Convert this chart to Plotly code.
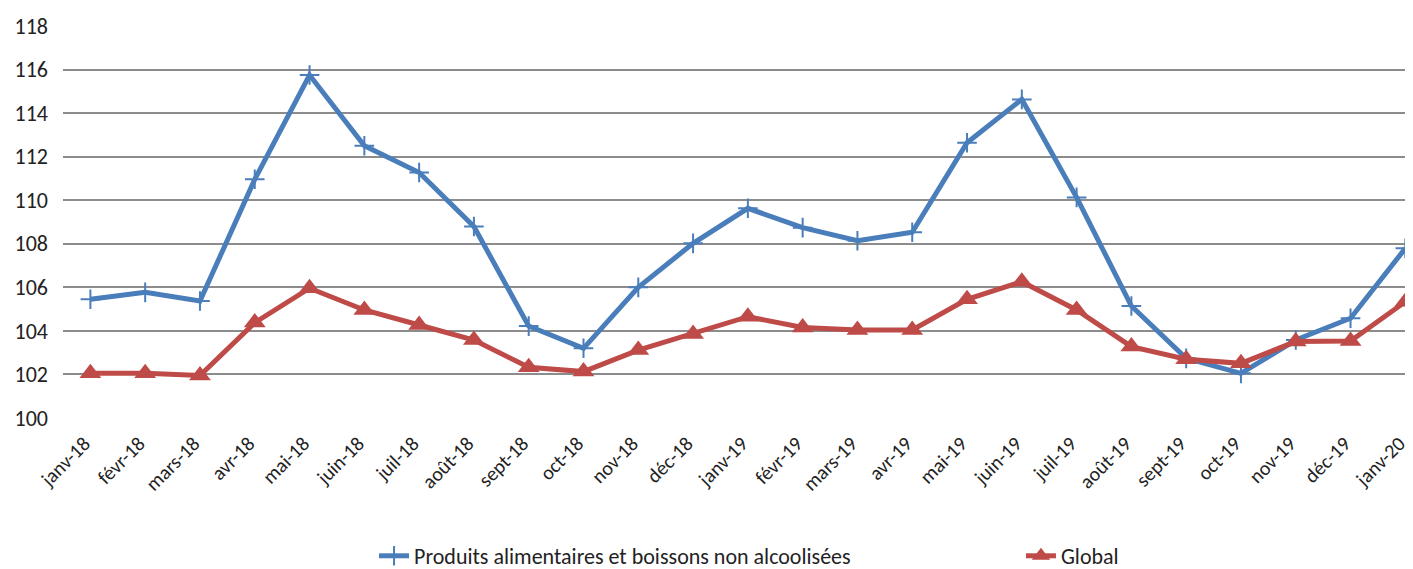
import plotly.graph_objects as go

months = ["janv-18", "févr-18", "mars-18", "avr-18", "mai-18", "juin-18", "juil-18", "août-18",
          "sept-18", "oct-18", "nov-18", "déc-18", "janv-19", "févr-19", "mars-19", "avr-19",
          "mai-19", "juin-19", "juil-19", "août-19", "sept-19", "oct-19", "nov-19", "déc-19", "janv-20"]

alimentaires = [105.45, 105.77, 105.37, 110.96, 115.75, 112.50, 111.27, 108.79,
                104.22, 103.20, 106.00, 108.02, 109.63, 108.74, 108.14, 108.53,
                112.64, 114.63, 110.13, 105.14, 102.74, 102.05, 103.58, 104.58, 107.79]

global_idx = [102.05, 102.05, 101.95, 104.38, 105.96, 104.96, 104.27, 103.58,
              102.33, 102.13, 103.12, 103.86, 104.65, 104.16, 104.04, 104.04,
              105.45, 106.26, 104.96, 103.28, 102.70, 102.51, 103.51, 103.53, 105.34]

y_ticks = [100, 102, 104, 106, 108, 110, 112, 114, 116, 118]

FONT = "Carlito, Calibri, 'Liberation Sans Narrow', 'Open Sans', sans-serif"
TXT = "#222222"

fig = go.Figure()
fig.add_trace(go.Scatter(
    x=list(range(len(months))), y=alimentaires, mode="lines+markers",
    name="Produits alimentaires et boissons non alcoolisées",
    line=dict(color="#4A7EBB", width=5),
    marker=dict(symbol="cross-thin", size=14, line=dict(color="#4A7EBB", width=2)),
    legend="legend",
))
fig.add_trace(go.Scatter(
    x=list(range(len(months))), y=global_idx, mode="lines+markers",
    name="Global",
    line=dict(color="#BE4B48", width=5),
    marker=dict(symbol="triangle-up", size=19, color="#BE4B48"),
    legend="legend2",
))

legend_common = dict(
    orientation="h", yanchor="middle", y=-0.352, xanchor="left",
    font=dict(family=FONT, size=22, color=TXT), itemwidth=30,
    bgcolor="rgba(0,0,0,0)",
)

# the page body adds an 8px offset, so the figure is 8px smaller and margins shifted
fig.update_layout(
    width=1405, height=561,
    margin=dict(l=55, r=0, t=18, b=151, autoexpand=False),
    paper_bgcolor="white", plot_bgcolor="white",
    font=dict(family=FONT, size=20, color=TXT),
    showlegend=True,
    legend=dict(x=0.2304, **legend_common),
    legend2=dict(x=0.7096, **legend_common),
)
fig.update_xaxes(
    tickmode="array", tickvals=list(range(len(months))), ticktext=months,
    tickangle=-45, range=[-0.5, 24.14], automargin=False,
    ticklabeloverflow="allow", ticklabelshift=-6, ticklabelstandoff=9,
    showgrid=False, zeroline=False, showline=False,
    tickfont=dict(family=FONT, size=20, color=TXT),
)
fig.update_yaxes(
    range=[100, 118], tickvals=y_ticks, automargin=False,
    showgrid=True, gridcolor="#8C8C8C", gridwidth=2,
    zeroline=False, showline=False,
    ticklabelstandoff=14,
    tickfont=dict(family=FONT, size=22, color=TXT),
)

fig.write_html("out.html")
